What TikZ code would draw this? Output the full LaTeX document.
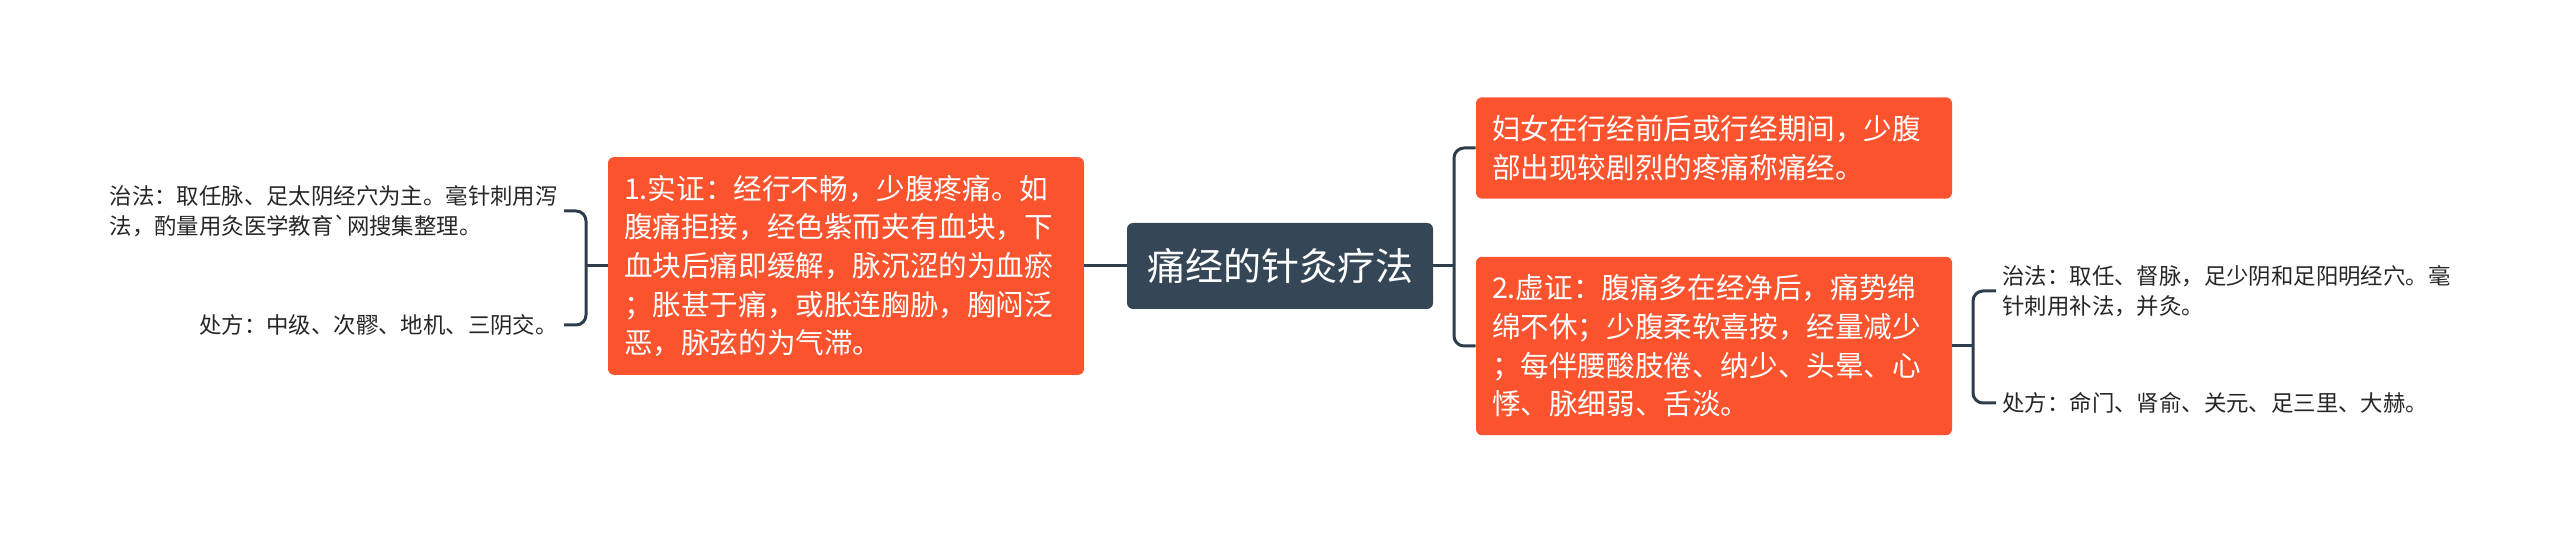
\documentclass[tikz,border=0pt]{standalone}
\usepackage{fontspec}
\setmainfont{Noto Sans CJK SC}
\usepackage{tikz}
\usetikzlibrary{calc,positioning}
\definecolor{rootslate}{HTML}{354757}
\definecolor{branchred}{HTML}{FA532E}
\definecolor{linkslate}{HTML}{2E3D4C}

\begin{document}
\begin{tikzpicture}[
        x=0.5pt, y=-0.5pt,
        % Styles for the boxes
        topic/.style={rectangle, rounded corners=3pt, fill=rootslate, text=white, align=center, minimum width=153pt, minimum height=43pt, font=\fontsize{19pt}{23pt}\selectfont},
        branch/.style={rectangle, rounded corners=3pt, fill=branchred, text=white, align=left, text width=222pt, inner xsep=8pt, inner ysep=9pt, font=\fontsize{14.3pt}{19.3pt}\selectfont},
        leaf/.style={rectangle, align=left, inner xsep=3pt, inner ysep=2pt, text=black!85, font=\fontsize{11.2pt}{15pt}\selectfont},
        link/.style={draw=linkslate, line width=1.5pt, rounded corners=5pt}
    ]
        \useasboundingbox (0,0) rectangle (2560,533);

        % Nodes
        \node[topic] (root) at (1280, 266) {痛经的针灸疗法};
        \node[branch] (shi) at (846, 266) {1.实证：经行不畅，少腹疼痛。如\\腹痛拒接，经色紫而夹有血块，下\\血块后痛即缓解，脉沉涩的为血瘀\\；胀甚于痛，或胀连胸胁，胸闷泛\\恶，脉弦的为气滞。};
        \node[branch] (def) at (1714, 148) {妇女在行经前后或行经期间，少腹\\部出现较剧烈的疼痛称痛经。};
        \node[branch] (xu) at (1714, 346) {2.虚证：腹痛多在经净后，痛势绵\\绵不休；少腹柔软喜按，经量减少\\；每伴腰酸肢倦、纳少、头晕、心\\悸、脉细弱、舌淡。};

        \node[leaf, anchor=east] (shiFa) at (564, 211) {治法：取任脉、足太阴经穴为主。毫针刺用泻\\法，酌量用灸医学教育\textasciigrave 网搜集整理。};
        \node[leaf, anchor=east] (shiFang) at (564, 325) {处方：中级、次髎、地机、三阴交。};
        \node[leaf, anchor=west] (xuFa) at (1996, 291) {治法：取任、督脉，足少阴和足阳明经穴。毫\\针刺用补法，并灸。};
        \node[leaf, anchor=west] (xuFang) at (1996, 403) {处方：命门、肾俞、关元、足三里、大赫。};

        % Junctions
        \coordinate (rootJ) at (1454, 266);
        \coordinate (shiJ) at (586, 266);
        \coordinate (xuJ) at (1973, 346);

        % Connectors
        \draw[link] (root.west) -- (shi.east);
        \draw[link] (root.east) -- (rootJ);
        \draw[link] (rootJ) |- (def.west);
        \draw[link] (rootJ) |- (xu.west);

        \draw[link] (shi.west) -- (shiJ);
        \draw[link] (shiJ) |- (shiFa.east);
        \draw[link] (shiJ) |- (shiFang.east);

        \draw[link] (xu.east) -- (xuJ);
        \draw[link] (xuJ) |- (xuFa.west);
        \draw[link] (xuJ) |- (xuFang.west);

    \end{tikzpicture}
\end{document}
